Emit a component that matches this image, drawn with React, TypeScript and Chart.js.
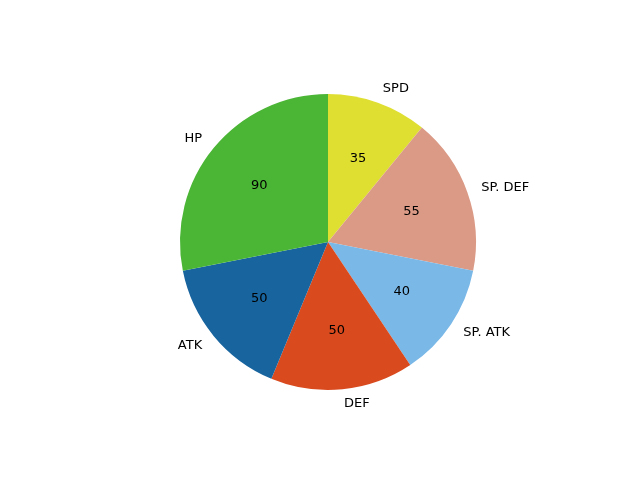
import { useEffect, useRef } from "react";
import { Chart, registerables } from "chart.js";

Chart.register(...registerables);

// matplotlib order (counterclockwise from top)
const LABELS = ["HP", "ATK", "DEF", "SP. ATK", "SP. DEF", "SPD"];
const VALUES = [90, 50, 50, 40, 55, 35];
const COLORS = ["#4bb536", "#17649e", "#d94a1e", "#7ab8e8", "#db9a86", "#dfdf32"];

export default function App() {
  const canvasRef = useRef<HTMLCanvasElement>(null);

  useEffect(() => {
    document.body.style.margin = "0";
    if (!canvasRef.current) return;
    // Chart.js goes clockwise, so reverse
    const labels = [...LABELS].reverse();
    const values = [...VALUES].reverse();
    const colors = [...COLORS].reverse();

    const chart = new Chart(canvasRef.current, {
      type: "pie",
      data: {
        labels,
        datasets: [{ data: values, backgroundColor: colors, borderWidth: 0 }],
      },
      options: {
        animation: false,
        responsive: false,
        layout: { padding: { left: 180, right: 164, top: 94, bottom: 90 } },
        plugins: { legend: { display: false }, tooltip: { enabled: false } },
      },
      plugins: [{
        id: "pieLabels",
        afterDraw(c) {
          const ctx = c.ctx;
          const meta = c.getDatasetMeta(0);
          ctx.save();
          ctx.font = "13px 'DejaVu Sans', sans-serif";
          ctx.fillStyle = "#000";
          ctx.textBaseline = "middle";
          meta.data.forEach((el: any, i: number) => {
            const { x, y, startAngle, endAngle, outerRadius } = el.getProps(
              ["x", "y", "startAngle", "endAngle", "outerRadius"], true);
            const mid = (startAngle + endAngle) / 2;
            const cx = Math.cos(mid), sy = Math.sin(mid);
            ctx.textAlign = "center";
            ctx.fillText(String(values[i]), x + cx * outerRadius * 0.6, y + sy * outerRadius * 0.6);
            ctx.textAlign = cx > 0 ? "left" : "right";
            ctx.fillText(labels[i], x + cx * outerRadius * 1.1, y + sy * outerRadius * 1.1);
          });
          ctx.restore();
        },
      }],
    });
    return () => chart.destroy();
  }, []);

  return <canvas ref={canvasRef} width={640} height={480} style={{ display: "block" }} />;
}
